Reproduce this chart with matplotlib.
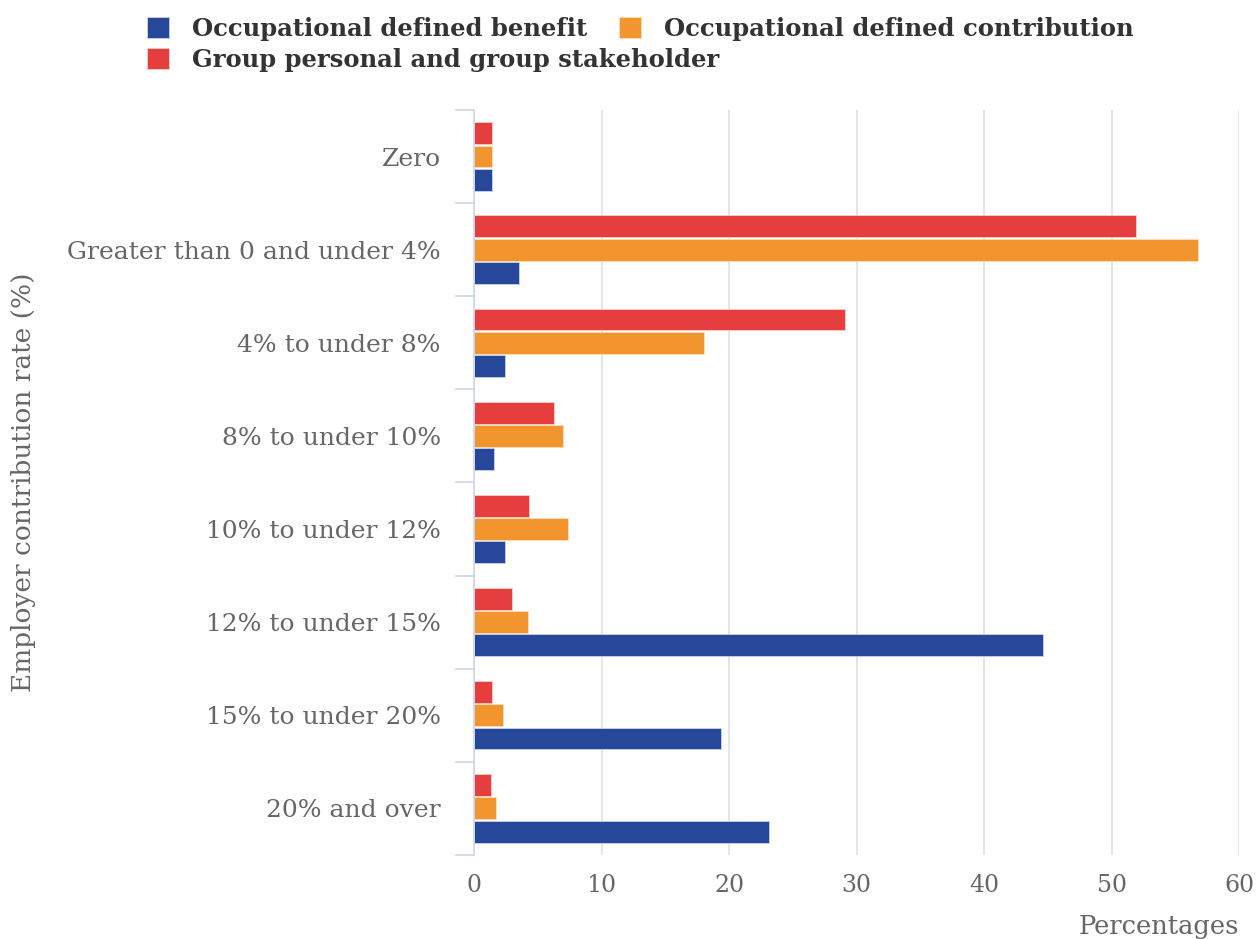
import matplotlib
matplotlib.use("Agg")
import matplotlib.pyplot as plt
import numpy as np

categories = ["Zero", "Greater than 0 and under 4%", "4% to under 8%", "8% to under 10%",
              "10% to under 12%", "12% to under 15%", "15% to under 20%", "20% and over"]
occ_db = [1.4, 3.5, 2.4, 1.6, 2.4, 44.6, 19.4, 23.1]
occ_dc = [1.4, 56.8, 18.0, 7.0, 7.4, 4.2, 2.3, 1.7]
group_personal = [1.4, 51.9, 29.1, 6.3, 4.3, 3.0, 1.4, 1.3]
series_names = ["Occupational defined benefit", "Occupational defined contribution",
                "Group personal and group stakeholder"]
xticks = [0, 10, 20, 30, 40, 50, 60]

blue = "#27479a"
orange = "#f2952f"
red = "#e63d3e"
text_col = "#666666"
axis_col = "#ccd6eb"

plt.rcParams["font.family"] = ["DejaVu Serif"]

fig = plt.figure(figsize=(12.56, 9.39), dpi=100)
ax = fig.add_axes([0.3774, 0.0895, 0.6091, 0.7934])

y = np.arange(len(categories))
h = 0.235
b_red = ax.barh(y - 0.25, group_personal, height=h, color=red, edgecolor="#f6d0c8", linewidth=0.6, zorder=3)
b_orange = ax.barh(y, occ_dc, height=h, color=orange, edgecolor="#fbe0b8", linewidth=0.6, zorder=3)
b_blue = ax.barh(y + 0.25, occ_db, height=h, color=blue, edgecolor="#c8d2ea", linewidth=0.6, zorder=3)

ax.set_ylim(-0.5, len(categories) - 0.5)
ax.invert_yaxis()
ax.set_xlim(0, 60)
ax.set_xticks(xticks)
ax.set_yticks(y)
ax.set_yticklabels(categories)
ax.set_yticks(np.arange(len(categories) + 1) - 0.5, minor=True)

ax.tick_params(axis="y", which="major", length=0, pad=24, labelsize=18, labelcolor=text_col)
ax.tick_params(axis="y", which="minor", length=14, width=1.2, color=axis_col)
ax.tick_params(axis="x", length=0, pad=14, labelsize=17, labelcolor=text_col)

ax.grid(axis="x", color="#e0e0e0", linewidth=1.2, zorder=0)
for s in ["top", "right", "bottom"]:
    ax.spines[s].set_visible(False)
ax.spines["left"].set_color(axis_col)
ax.spines["left"].set_linewidth(1.2)
ax.spines["left"].set_zorder(4)

ax.set_xlabel("Percentages", loc="right", fontsize=18.5, color=text_col, labelpad=12)
ax.set_ylabel("Employer contribution rate (%)", fontsize=19, color=text_col)
ax.yaxis.set_label_coords(-0.572, 0.5)

leg_prop = {"family": "DejaVu Serif", "weight": "bold", "size": 17.5}
leg_kw = dict(frameon=False, handlelength=0.9, handleheight=0.9,
              handletextpad=0.95, columnspacing=1.3, borderaxespad=0, borderpad=0)
leg1 = fig.legend([b_blue, b_orange], [series_names[0], series_names[1]], ncol=2,
                  loc="upper left", bbox_to_anchor=(0.117, 0.982), prop=leg_prop, **leg_kw)
leg2 = fig.legend([b_red], [series_names[2]], ncol=1,
                  loc="upper left", bbox_to_anchor=(0.117, 0.949), prop=leg_prop, **leg_kw)
for leg in (leg1, leg2):
    for t in leg.get_texts():
        t.set_color("#333333")

fig.savefig("out.png", dpi=100)
